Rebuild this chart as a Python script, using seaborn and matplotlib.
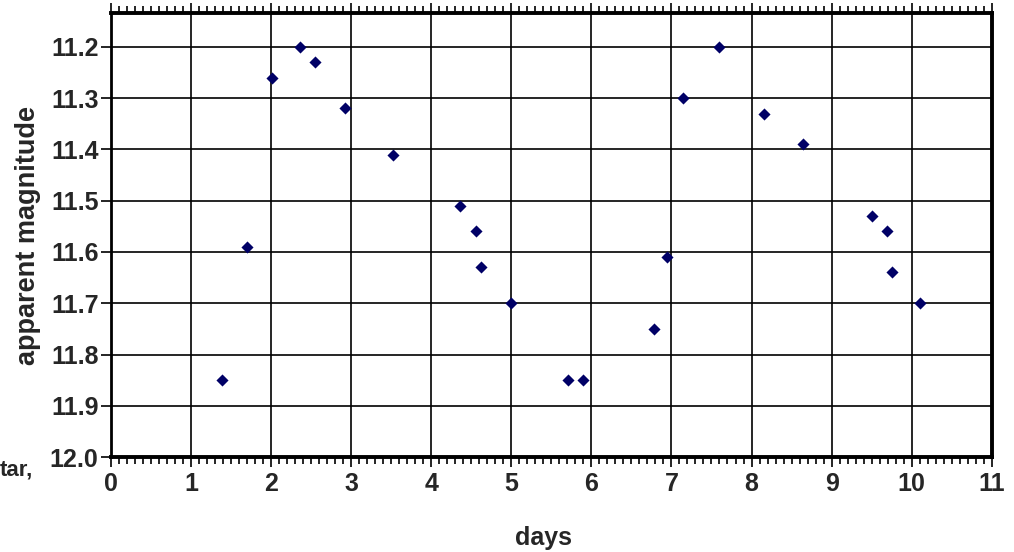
import matplotlib
matplotlib.use("Agg")
import matplotlib.pyplot as plt
from matplotlib.ticker import MultipleLocator
import pandas as pd
import seaborn as sns

days = [1.39, 1.70, 2.01, 2.36, 2.55, 2.92, 3.52, 4.36, 4.56, 4.62, 4.99,
        5.71, 5.90, 6.78, 6.94, 7.14, 7.59, 8.16, 8.64, 9.50, 9.69, 9.75, 10.11]
magnitude = [11.85, 11.59, 11.26, 11.20, 11.23, 11.32, 11.41, 11.51, 11.56, 11.63, 11.70,
             11.85, 11.85, 11.75, 11.61, 11.30, 11.20, 11.33, 11.39, 11.53, 11.56, 11.64, 11.70]
y_ticks = [11.2, 11.3, 11.4, 11.5, 11.6, 11.7, 11.8, 11.9, 12.0]
x_ticks = list(range(0, 12))

df = pd.DataFrame({"days": days, "magnitude": magnitude})

sns.set_style("white")
plt.rcParams["font.family"] = ["Liberation Sans", "DejaVu Sans"]

fig = plt.figure(figsize=(10.14, 5.52), dpi=100)
ax = fig.add_axes([0.1095, 0.172, 0.8685, 0.8044])

sns.scatterplot(data=df, x="days", y="magnitude", marker="D", s=38,
                color="#000066", edgecolor="#000066", linewidth=0, ax=ax, zorder=3)

ax.set_xlim(0, 11)
ax.set_ylim(12.0, 11.134)
ax.set_xticks(x_ticks)
ax.set_yticks(y_ticks)
ax.set_yticklabels([f"{v:.1f}" for v in y_ticks])
ax.xaxis.set_minor_locator(MultipleLocator(0.1))

ax.grid(True, which="major", color="black", linewidth=1.2)
ax.set_axisbelow(True)

for side, lw in {"left": 2.0, "bottom": 2.8, "top": 2.8, "right": 2.8}.items():
    ax.spines[side].set_visible(True)
    ax.spines[side].set_color("black")
    ax.spines[side].set_linewidth(lw)

ax.tick_params(axis="x", which="both", direction="out", top=True, bottom=True,
               color="black", width=1.2)
ax.tick_params(axis="x", which="major", length=7, labelsize=18, pad=4)
ax.tick_params(axis="x", which="minor", length=5)
ax.tick_params(axis="y", which="major", direction="out", left=True, length=7,
               width=1.2, color="black", labelsize=18, pad=2)
for lab in ax.get_xticklabels() + ax.get_yticklabels():
    lab.set_fontweight("bold")

ax.set_xlabel("")
ax.set_ylabel("apparent magnitude", fontsize=19.5, fontweight="bold", labelpad=6)
fig.text(0.536, 0.025, "days", ha="center", va="center", fontsize=18, fontweight="bold")
fig.text(0.0, 0.148, "tar,", ha="left", va="center", fontsize=16, fontweight="bold")

plt.savefig("out.png", dpi=100)
